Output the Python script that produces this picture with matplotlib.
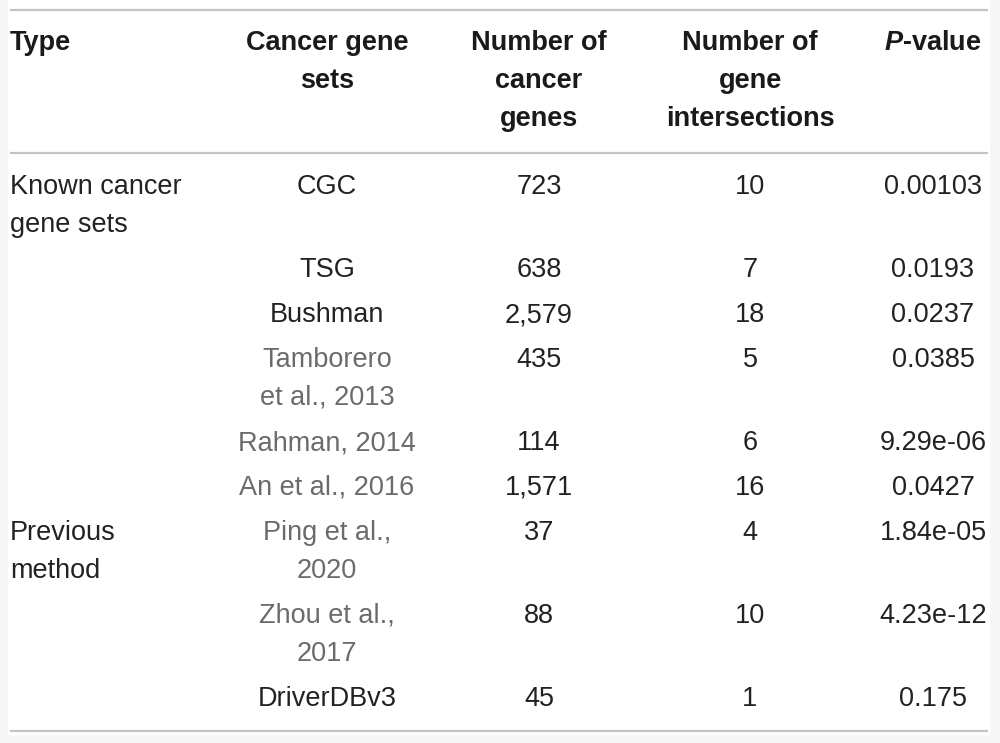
import matplotlib
matplotlib.use("Agg")
import matplotlib.pyplot as plt
from matplotlib.patches import Rectangle

plt.rcParams["mathtext.fontset"] = "custom"
plt.rcParams["mathtext.bfit"] = "Liberation Sans:italic:bold"
plt.rcParams["mathtext.bf"] = "Liberation Sans:bold"
plt.rcParams["mathtext.rm"] = "Liberation Sans"

# table content
headers = ["Type", "Cancer gene\nsets", "Number of\ncancer\ngenes",
           "Number of\ngene\nintersections", "$\\bfit{P}$-value"]
types = ["Known cancer\ngene sets", "", "", "", "", "", "Previous\nmethod", "", ""]
gene_sets = ["CGC", "TSG", "Bushman", "Tamborero\net al., 2013", "Rahman, 2014",
             "An et al., 2016", "Ping et al.,\n2020", "Zhou et al.,\n2017", "DriverDBv3"]
n_genes = ["723", "638", "2,579", "435", "114", "1,571", "37", "88", "45"]
n_intersections = ["10", "7", "18", "5", "6", "16", "4", "10", "1"]
p_values = ["0.00103", "0.0193", "0.0237", "0.0385", "9.29e-06", "0.0427",
            "1.84e-05", "4.23e-12", "0.175"]
cited = [False, False, False, True, True, True, True, True, False]

W, H = 1000, 743
fig = plt.figure(figsize=(W / 100, H / 100), dpi=100, facecolor="#f7f7f7")
ax = fig.add_axes([0, 0, 1, 1])
ax.set_xlim(0, W); ax.set_ylim(H, 0); ax.axis("off")
ax.add_patch(Rectangle((8, 0), 982, 735, facecolor="white", edgecolor="none"))

FONT = "Liberation Sans"
FS = 19.5
LINE = 38
col_x = [10, 327, 539, 750, 933]
col_ha = ["left", "center", "center", "center", "center"]

def put(x, y, txt, ha, color="#222222", weight="normal"):
    for i, part in enumerate(txt.split("\n")):
        ax.text(x, y + i * LINE, part, ha=ha, va="center", fontsize=FS,
                family=FONT, color=color, weight=weight)

for rule_y in (10, 153, 731):
    ax.plot([10, 988], [rule_y, rule_y], color="#c4c4c4", linewidth=1.6,
            solid_capstyle="butt")

for x, ha, h in zip(col_x, col_ha, headers):
    put(x, 43, h, ha, color="#1a1a1a", weight="bold")

y = 187
for i in range(len(gene_sets)):
    cells = [types[i], gene_sets[i], n_genes[i], n_intersections[i], p_values[i]]
    for j, (x, ha, c) in enumerate(zip(col_x, col_ha, cells)):
        color = "#6b6b6b" if (j == 1 and cited[i]) else "#222222"
        put(x, y, c, ha, color=color)
    nlines = max(c.count("\n") + 1 for c in cells)
    y += 45 + LINE * (nlines - 1)

fig.savefig("out.png", dpi=100, facecolor=fig.get_facecolor())
